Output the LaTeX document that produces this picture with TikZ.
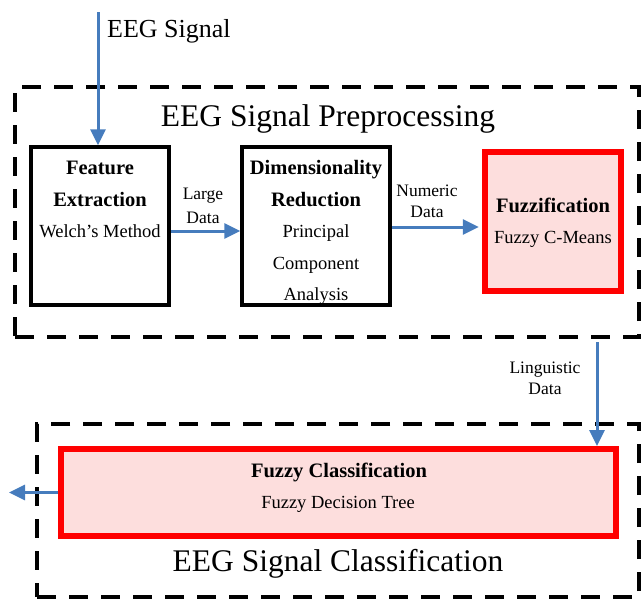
\documentclass[tikz,border=0pt]{standalone}
\usepackage{fontspec}
\setmainfont{Liberation Serif}
\usetikzlibrary{arrows.meta,calc}
\definecolor{pinkfill}{RGB}{253,222,221}
\definecolor{arrblue}{RGB}{70,124,189}
\definecolor{boxred}{RGB}{255,0,0}
\begin{document}
\begin{tikzpicture}[x=1pt,y=-1pt,
  dashbox/.style={draw, line width=4pt, dash pattern=on 19pt off 13pt, rectangle, inner sep=0pt},
  plainbox/.style={draw, line width=3.5pt, rectangle, inner sep=0pt},
  fuzzbox/.style={draw=boxred, fill=pinkfill, line width=6pt, rectangle, inner sep=0pt},
  arr/.style={draw=arrblue, line width=3pt, -{Triangle[width=15pt,length=16pt]}},
  boldtxt/.style={font=\bfseries\fontsize{20.5}{24}\selectfont, anchor=base, inner sep=0pt},
  regtxt/.style={font=\fontsize{18.5}{22}\selectfont, anchor=base, inner sep=0pt},
  lbltxt/.style={font=\fontsize{17.5}{21}\selectfont, anchor=base, inner sep=0pt},
  titletxt/.style={font=\fontsize{31.5}{36}\selectfont, anchor=base, inner sep=0pt}]
\useasboundingbox (0,0) rectangle (643,598);

% group boxes
\node[dashbox, minimum width=624pt, minimum height=250pt] (pre) at (327,212) {};
\node[dashbox, minimum width=602pt, minimum height=173pt] (cls) at (338,510.5) {};

% process boxes
\node[plainbox, minimum width=138pt, minimum height=158pt] (fe) at (100,226) {};
\node[plainbox, minimum width=148pt, minimum height=158pt] (dr) at (316,226) {};
\node[fuzzbox, minimum width=136.5pt, minimum height=139pt] (fz) at (553,221.5) {};
\node[fuzzbox, minimum width=555pt, minimum height=87pt] (fc) at (338.5,492.5) {};

% titles
\node[titletxt] (tpre) at (328,126) {EEG Signal Preprocessing};
\node[titletxt] (tcls) at (338,571) {EEG Signal Classification};
\node[font=\fontsize{26}{30}\selectfont, anchor=base west, inner sep=0pt] (tsig) at (107,37) {EEG Signal};

% box texts
\node[boldtxt] (fe1) at (100,174) {Feature};
\node[boldtxt] (fe2) at (100,206) {Extraction};
\node[regtxt] (fe3) at (100,237) {Welch’s Method};

\node[boldtxt] (dr1) at (316,174) {Dimensionality};
\node[boldtxt] (dr2) at (316,206) {Reduction};
\node[regtxt] (dr3) at (316,237) {Principal};
\node[regtxt] (dr4) at (316,269) {Component};
\node[regtxt] (dr5) at (316,300) {Analysis};

\node[boldtxt] (fz1) at (553,212) {Fuzzification};
\node[regtxt] (fz2) at (553,243) {Fuzzy C-Means};

\node[boldtxt] (fc1) at (339,477) {Fuzzy Classification};
\node[regtxt] (fc2) at (338,508) {Fuzzy Decision Tree};

% connector labels
\node[lbltxt] (l1a) at (203,199) {Large};
\node[lbltxt] (l1b) at (203,223) {Data};
\node[lbltxt] (l2a) at (427,196) {Numeric};
\node[lbltxt] (l2b) at (427,217) {Data};
\node[lbltxt] (l3a) at (545,373) {Linguistic};
\node[lbltxt] (l3b) at (545,394) {Data};

% connectors
\coordinate (sig) at (98,12);
\draw[arr] (sig) -- (sig |- fe.north);
\draw[arr] ($(fe.east)+(0,5)$) coordinate (a1) -- (a1 -| dr.west);
\draw[arr, shorten >=3pt] ($(dr.east)+(0,1)$) coordinate (a2) -- (a2 -| fz.west);
\coordinate (lt) at (597,342);
\draw[arr] (lt) -- (lt |- fc.north);
\coordinate (outp) at (9,492.5);
\draw[arr] (fc.west) -- (outp);
\end{tikzpicture}
\end{document}
